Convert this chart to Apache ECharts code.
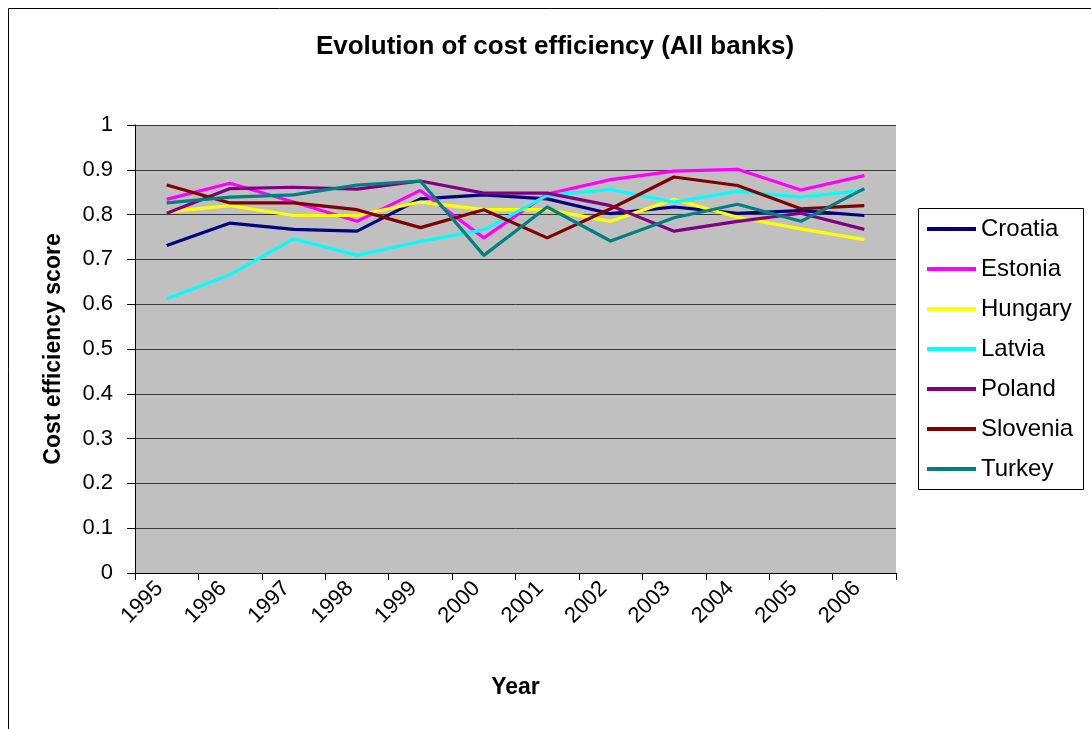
<!DOCTYPE html>
<html>
<head>
<meta charset="utf-8">
<style>
  html, body { margin: 0; padding: 0; background: #ffffff; }
  #chart { width: 1091px; height: 729px; }
</style>
<script src="https://cdn.jsdelivr.net/npm/echarts@6/dist/echarts.min.js"></script>
</head>
<body>
<div id="chart"></div>
<script>
// Years on the category axis
var years = ['1995', '1996', '1997', '1998', '1999', '2000', '2001', '2002', '2003', '2004', '2005', '2006'];

// Cost efficiency scores per country (all banks)
var croatia  = [0.731, 0.781, 0.767, 0.763, 0.835, 0.844, 0.835, 0.802, 0.817, 0.803, 0.809, 0.798];
var estonia  = [0.834, 0.870, 0.828, 0.785, 0.854, 0.748, 0.846, 0.878, 0.897, 0.901, 0.855, 0.887];
var hungary  = [0.806, 0.820, 0.798, 0.798, 0.828, 0.811, 0.811, 0.785, 0.834, 0.794, 0.768, 0.744];
var latvia   = [0.612, 0.666, 0.746, 0.709, 0.740, 0.766, 0.843, 0.856, 0.828, 0.852, 0.839, 0.854];
var poland   = [0.803, 0.858, 0.861, 0.857, 0.875, 0.848, 0.848, 0.820, 0.763, 0.785, 0.803, 0.767];
var slovenia = [0.866, 0.826, 0.826, 0.811, 0.771, 0.811, 0.748, 0.813, 0.884, 0.865, 0.813, 0.820];
var turkey   = [0.826, 0.839, 0.844, 0.866, 0.875, 0.709, 0.817, 0.741, 0.793, 0.823, 0.785, 0.858];

var countries = ['Croatia', 'Estonia', 'Hungary', 'Latvia', 'Poland', 'Slovenia', 'Turkey'];
var seriesData = [croatia, estonia, hungary, latvia, poland, slovenia, turkey];
var colors = ['#000080', '#FF00FF', '#FFFF00', '#00FFFF', '#800080', '#800000', '#008080'];

var FONT = '"Liberation Sans", Arial, Helvetica, sans-serif';

var chart = echarts.init(document.getElementById('chart'), null, { renderer: 'canvas' });

var series = countries.map(function (name, i) {
  return {
    name: name,
    type: 'line',
    data: seriesData[i],
    symbol: 'none',
    showSymbol: false,
    lineStyle: { color: colors[i], width: 3.2 },
    itemStyle: { color: colors[i] },
    emphasis: { disabled: true },
    animation: false
  };
});

chart.setOption({
  animation: false,
  backgroundColor: '#ffffff',
  color: colors,
  title: {
    text: 'Evolution of cost efficiency (All banks)',
    left: 550,
    textAlign: 'center',
    top: 29,
    textStyle: { fontFamily: FONT, fontSize: 26, fontWeight: 'bold', color: '#000' }
  },
  graphic: [
    {
      type: 'rect',
      shape: { x: 8.5, y: 8.5, width: 1100, height: 740 },
      style: { fill: 'none', stroke: '#000', lineWidth: 1 },
      silent: true
    },
    {
      type: 'rect',
      shape: { x: 918.5, y: 208.5, width: 165, height: 281 },
      style: { fill: '#fff', stroke: '#000', lineWidth: 1 },
      silent: true,
      z: 1
    }
  ],
  legend: {
    orient: 'vertical',
    left: 927,
    top: 216,
    padding: 0,
    itemWidth: 49,
    itemHeight: 4,
    itemGap: 14,
    icon: 'rect',
    z: 5,
    textStyle: { fontFamily: FONT, fontSize: 24, lineHeight: 26, color: '#000' },
    data: countries
  },
  grid: {
    left: 135,
    right: 195,
    top: 125,
    bottom: 156,
    show: true,
    backgroundColor: '#C0C0C0',
    borderWidth: 0
  },
  xAxis: {
    type: 'category',
    data: years,
    boundaryGap: true,
    name: 'Year',
    nameLocation: 'middle',
    nameGap: 103,
    nameTextStyle: { fontFamily: FONT, fontSize: 23, fontWeight: 'bold', color: '#000' },
    axisLine: { show: true, lineStyle: { color: '#000', width: 1 } },
    axisTick: { show: true, alignWithLabel: false, length: 7, lineStyle: { color: '#000' } },
    axisLabel: {
      rotate: 45,
      margin: 5,
      padding: [0, 10, 0, 0],
      fontFamily: FONT,
      fontSize: 22,
      color: '#000',
      interval: 0
    },
    splitLine: { show: false }
  },
  yAxis: {
    type: 'value',
    min: 0,
    max: 1,
    interval: 0.1,
    name: 'Cost efficiency score',
    nameLocation: 'middle',
    nameRotate: 90,
    nameGap: 70,
    nameTextStyle: { fontFamily: FONT, fontSize: 23, fontWeight: 'bold', color: '#000' },
    axisLine: { show: true, lineStyle: { color: '#000', width: 1 } },
    axisTick: { show: true, length: 8, lineStyle: { color: '#000' } },
    axisLabel: {
      margin: 22,
      fontFamily: FONT,
      fontSize: 22,
      color: '#000',
      formatter: function (v) { return String(Math.round(v * 10) / 10); }
    },
    splitLine: { show: true, lineStyle: { color: '#3a3a3a', width: 1 } }
  },
  series: series
});
</script>
</body>
</html>
